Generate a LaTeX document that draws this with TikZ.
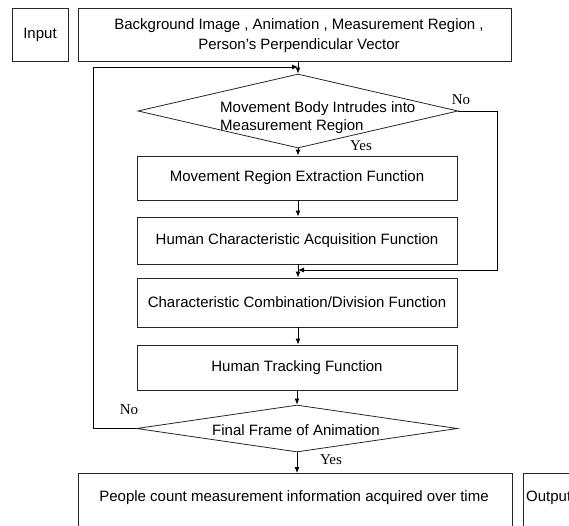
\documentclass[tikz,border=0pt]{standalone}
\usepackage{fontspec}
\setmainfont{Liberation Sans}
\newfontfamily\serifnf{Liberation Serif}
\usetikzlibrary{shapes.geometric,arrows.meta}
\tikzset{
  box/.style={draw=black!85, line width=0.8pt, rectangle, inner sep=0pt, align=center},
  dec/.style={draw=black!85, line width=0.8pt, diamond, inner sep=0pt},
  conn/.style={draw=black, line width=0.9pt},
  arr/.style={conn, -{Latex[length=6pt,width=5pt]}},
  lbl/.style={font=\serifnf\fontsize{15}{18}\selectfont, inner sep=0pt},
}
\begin{document}
\begin{tikzpicture}[x=1pt, y=-1pt, font=\fontsize{15}{20}\selectfont]
\useasboundingbox (0,0) rectangle (569,525);
\clip (0,0) rectangle (569,525);
\fill[white] (0,0) rectangle (569,525);

% top row
\node[box, minimum width=56pt, minimum height=53pt] (input) at (40,34.5) {Input};
\node[box, minimum width=433pt, minimum height=53pt] (main) at (294.5,34.5) {};
\node[align=center, inner sep=0pt] (maintext) at (299,36) {Background Image , Animation , Measurement Region ,\\Person’s Perpendicular Vector};

% decision 1
\node[dec, minimum width=320pt, minimum height=74pt] (d1) at (298,111) {};
\node[align=left, inner sep=0pt, anchor=west, font=\fontsize{15}{18}\selectfont] (d1text) at (220,118) {Movement Body Intrudes into\\Measurement Region};

% process boxes
\node[box, minimum width=320pt, minimum height=44pt] (b1) at (297,178) {Movement Region Extraction Function};
\node[box, minimum width=320pt, minimum height=47pt] (b2) at (297,240.5) {Human Characteristic Acquisition Function};
\node[box, minimum width=320pt, minimum height=49pt] (b3) at (297,302.5) {Characteristic Combination/Division Function};
\node[box, minimum width=320pt, minimum height=45pt] (b4) at (297,367.5) {Human Tracking Function};

% decision 2
\node[dec, minimum width=321pt, minimum height=47pt] (d2) at (297,428.5) {};
\node[inner sep=0pt] (d2text) at (296,430) {Final Frame of Animation};

% bottom row
\node[box, minimum width=434pt, minimum height=90pt, anchor=north] (out) at (295,473) {};
\node[inner sep=0pt] (outtext) at (294,498) {People count measurement information acquired over time};
\node[box, minimum width=80pt, minimum height=90pt, anchor=north west] (outlbl) at (523,473) {};
\node[inner sep=0pt, anchor=west] (outlbltext) at (526,498) {Output};

% helper coordinates
\coordinate (lc) at (93,67);
\coordinate (lt) at (298,67);
\coordinate (rc) at (497,270);
\coordinate (rt) at (298,270);

% connectors
\draw[arr] (main.south -| d1.north) -- (d1.north);
\draw[arr] (d1.south) -- (b1.north -| d1.south);
\draw[arr] (b1.south -| d1.south) -- (b2.north -| d1.south);
\draw[arr] (b2.south -| d1.south) -- (b3.north -| d1.south);
\draw[arr] (b3.south -| d1.south) -- (b4.north -| d1.south);
\draw[arr] (b4.south -| d2.north) -- (d2.north);
\draw[arr] (d2.south) -- (out.north -| d2.south);
\draw[arr] (d2.west) -| (lc) -- (lt);
\draw[arr] (d1.east) -| (rc) -- (rt);

% labels
\node[lbl] (no1) at (461,100) {No};
\node[lbl] (yes1) at (361,146) {Yes};
\node[lbl] (no2) at (129,410) {No};
\node[lbl] (yes2) at (331,460) {Yes};
\end{tikzpicture}
\end{document}
